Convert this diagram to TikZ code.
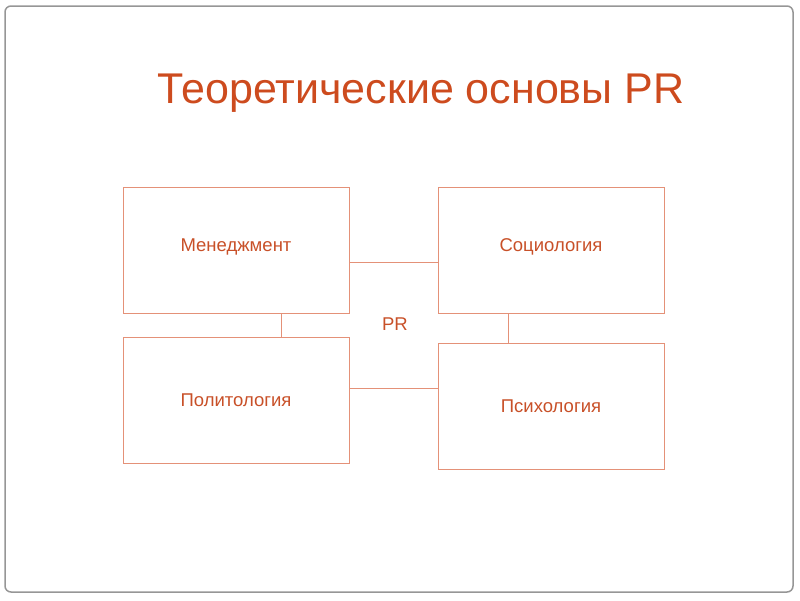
\documentclass[tikz,border=0pt]{standalone}
\usepackage{fontspec}
\setmainfont{Liberation Sans}
\definecolor{titlec}{RGB}{205,75,30}
\definecolor{textc}{RGB}{200,80,40}
\definecolor{linec}{RGB}{228,145,120}
\definecolor{framec}{RGB}{150,150,150}
\begin{document}
\begin{tikzpicture}[x=1pt,y=-1pt,
  box/.style={draw=linec,line width=0.9pt,minimum width=226pt,minimum height=126pt,inner sep=0pt},
  lbl/.style={text=textc,font=\fontsize{18.5}{21}\selectfont},
  conn/.style={draw=linec,line width=0.9pt}]
\useasboundingbox (0,0) rectangle (800,600);
\draw[framec,line width=1.5pt,rounded corners=6pt] (5,6) rectangle (793,592);
\node[text=titlec,font=\fontsize{43}{48}\selectfont] (title) at (421,93) {Теоретические основы PR};
\node[box] (men) at (236,250) {};
\node[lbl] (menl) at (236,247) {Менеджмент};
\node[box] (soc) at (551,250) {};
\node[lbl] (socl) at (551,247) {Социология};
\node[box] (pol) at (236,400.5) {};
\node[lbl] (poll) at (236,400) {Политология};
\node[box] (psy) at (551,406.5) {};
\node[lbl] (psyl) at (551,406) {Психология};
\node[lbl] (pr) at (395,324) {PR};
\draw[conn] (men.east |- 0,262) coordinate (a1) -- (soc.west |- a1);
\draw[conn] (pol.east |- 0,388) coordinate (a2) -- (psy.west |- a2);
\draw[conn] (men.south -| 281,0) coordinate (a3) -- (pol.north -| a3);
\draw[conn] (soc.south -| 508,0) coordinate (a4) -- (psy.north -| a4);
\end{tikzpicture}
\end{document}
